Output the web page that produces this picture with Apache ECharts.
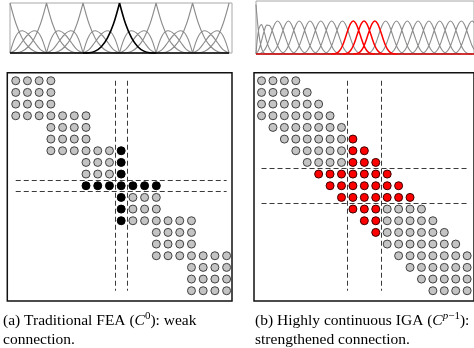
<!DOCTYPE html>
<html><head><meta charset="utf-8">
<script src="https://cdn.jsdelivr.net/npm/echarts@6/dist/echarts.min.js"></script>
<style>html,body{margin:0;padding:0;background:#fff}#c{width:474px;height:348px}</style>
</head><body><div id="c"></div>
<script>
// ---------- (a) Traditional FEA: cubic Bernstein basis, C0, 6 elements ----------
const leftKnots = [0, 1, 2, 3, 4, 5, 6];
const bernT = [0, 1/6, 2/6, 3/6, 4/6, 5/6, 1];
const bernVertex = [1, 0.579, 0.296, 0.125, 0.037, 0.005, 0];   // vertex function, falling half
const bernHump = [0, 0.347, 0.444, 0.375, 0.222, 0.069, 0];      // interior function
const leftHighlightKnot = 3;

// ---------- (b) Highly continuous IGA: cubic B-splines, open knot vector ----------
const rightKnots = [0,0,0,0,1,2,3,4,5,6,7,8,9,10,11,12,13,14,15,16,17,18,19,20,21,22];
const splineStep = 0.25;
const splineN0 = [1, 0.422, 0.125, 0.016, 0];
const splineN1 = [0, 0.496, 0.594, 0.457, 0.25, 0.105, 0.031, 0.004, 0];
const splineN2 = [0, 0.079, 0.260, 0.457, 0.583, 0.577, 0.469, 0.314, 0.167, 0.070, 0.021, 0.003, 0];
const splineInner = [0, 0.003, 0.021, 0.070, 0.167, 0.315, 0.479, 0.612, 0.667, 0.612, 0.479, 0.315, 0.167, 0.070, 0.021, 0.003, 0];
const rightFuncCount = 22;
const rightHighlightFuncs = [10, 11, 12];

// ---------- sparsity patterns (column range per row) ----------
const leftRowRanges = [[0,3],[0,3],[0,3],[0,6],[3,6],[3,6],[3,9],[6,9],[6,9],[6,12],[9,12],[9,12],[9,15],[12,15],[12,15],[12,18],[15,18],[15,18],[15,18]];
const leftHighlightIdx = [9];
const rightRowRanges = [[0,3],[0,4],[0,5],[0,6],[1,7],[2,8],[3,9],[4,10],[5,11],[6,12],[7,13],[8,14],[9,15],[10,16],[11,17],[12,18],[13,18],[14,18],[15,18]];
const rightHighlightIdx = [8, 9, 10];

// ---------- build line data ----------
const BR = ['-', '-'];
function piece(x0, w, ts, ys) { return ts.map((t, k) => [x0 + t * w, ys[k]]); }

const leftGray = [], leftBlack = [];
const rev = a => a.slice().reverse();
for (let e = 0; e < leftKnots.length - 1; e++) {
  const x0 = leftKnots[e], w = leftKnots[e + 1] - leftKnots[e];
  const pieces = [
    { ys: bernVertex, owner: leftKnots[e] },
    { ys: bernHump, owner: null },
    { ys: rev(bernHump), owner: null },
    { ys: rev(bernVertex), owner: leftKnots[e + 1] }
  ];
  pieces.forEach(p => {
    const target = p.owner === leftHighlightKnot ? leftBlack : leftGray;
    target.push(...piece(x0, w, bernT, p.ys), BR);
  });
}
const leftBase = [[leftKnots[0], 0], [leftKnots[leftKnots.length - 1], 0]];

const rightGray = [], rightRed = [];
for (let i = 0; i < rightFuncCount; i++) {
  const shape = i === 0 ? splineN0 : i === 1 ? splineN1 : i === 2 ? splineN2 : splineInner;
  const x0 = rightKnots[i];
  const pts = shape.map((v, k) => [x0 + k * splineStep, v]);
  const target = rightHighlightFuncs.includes(i) ? rightRed : rightGray;
  target.push(...pts, BR);
}
const rightBase = [[rightKnots[0], 0], [rightKnots[rightKnots.length - 1], 0]];

// ---------- build matrix data ----------
function cells(ranges, H) {
  const g = [], h = [];
  ranges.forEach((r, i) => {
    for (let j = r[0]; j <= r[1]; j++) {
      (H.includes(i) || H.includes(j) ? h : g).push([j, i]);
    }
  });
  return { g, h };
}
const LC = cells(leftRowRanges, leftHighlightIdx);
const RC = cells(rightRowRanges, rightHighlightIdx);
function dashLines(H, n) {
  const a = Math.min(...H) - 0.5, b = Math.max(...H) + 0.5, last = n - 1;
  return [
    [{ coord: [a, 0] }, { coord: [a, last] }],
    [{ coord: [b, 0] }, { coord: [b, last] }],
    [{ coord: [0, a] }, { coord: [last, a] }],
    [{ coord: [0, b] }, { coord: [last, b] }]
  ];
}

const chart = echarts.init(document.getElementById('c'), null, { renderer: 'canvas' });
const ax = (gi, min, max, inv) => ({ type: 'value', gridIndex: gi, min, max, inverse: !!inv, show: false });
const dashStyle = { type: [5, 3], color: '#3a3a3a', width: 1 };
const dotGray = { color: '#c4c4c4', borderColor: '#404040', borderWidth: 1, opacity: 1 };

chart.setOption({
  animation: false,
  backgroundColor: '#fff',
  grid: [
    { left: 10, top: 3, width: 222, height: 50, show: true, borderColor: '#a8a8a8', borderWidth: 1, backgroundColor: 'transparent' },
    { left: 256, top: 1, width: 230, height: 53, show: true, borderColor: '#a8a8a8', borderWidth: 1, backgroundColor: 'transparent' },
    { left: 7.3, top: 72.7, width: 224.7, height: 228.3, show: true, borderColor: '#111', borderWidth: 1.5, backgroundColor: 'transparent' },
    { left: 254, top: 72.7, width: 224.8, height: 228.3, show: true, borderColor: '#111', borderWidth: 1.5, backgroundColor: 'transparent' }
  ],
  xAxis: [ax(0, 0, 6.08), ax(1, 0, 230 / 11.4), ax(2, -0.72, 18.46), ax(3, -0.66, 18.6)],
  yAxis: [ax(0, 0, 1), ax(1, 0, 1.07), ax(2, -0.69, 18.88, true), ax(3, -0.69, 18.88, true)],
  series: [
    { type: 'line', xAxisIndex: 0, yAxisIndex: 0, data: leftGray, smooth: 0.35, symbol: 'none', clip: false, connectNulls: false, lineStyle: { color: '#8c8c8c', width: 1.1 }, silent: true },
    { type: 'line', xAxisIndex: 0, yAxisIndex: 0, data: leftBase, symbol: 'none', clip: false, lineStyle: { color: '#000', width: 1.6 }, silent: true },
    { type: 'line', xAxisIndex: 0, yAxisIndex: 0, data: leftBlack, smooth: 0.35, symbol: 'none', clip: false, connectNulls: false, lineStyle: { color: '#000', width: 1.6 }, silent: true },
    { type: 'line', xAxisIndex: 1, yAxisIndex: 1, data: rightGray, smooth: 0.35, symbol: 'none', clip: false, connectNulls: false, lineStyle: { color: '#8c8c8c', width: 1.1 }, silent: true },
    { type: 'line', xAxisIndex: 1, yAxisIndex: 1, data: rightBase, symbol: 'none', clip: false, lineStyle: { color: '#d00000', width: 1.4 }, silent: true },
    { type: 'line', xAxisIndex: 1, yAxisIndex: 1, data: rightRed, smooth: 0.35, symbol: 'none', clip: false, connectNulls: false, lineStyle: { color: '#ff0000', width: 1.5 }, silent: true },
    { type: 'scatter', xAxisIndex: 2, yAxisIndex: 2, data: LC.g, symbolSize: 8, itemStyle: dotGray, silent: true,
      markLine: { symbol: 'none', silent: true, label: { show: false }, lineStyle: dashStyle, data: dashLines(leftHighlightIdx, leftRowRanges.length) } },
    { type: 'scatter', xAxisIndex: 2, yAxisIndex: 2, data: LC.h, symbolSize: 8, itemStyle: { color: '#000', borderColor: '#000', borderWidth: 1, opacity: 1 }, silent: true },
    { type: 'scatter', xAxisIndex: 3, yAxisIndex: 3, data: RC.g, symbolSize: 8, itemStyle: dotGray, silent: true,
      markLine: { symbol: 'none', silent: true, label: { show: false }, lineStyle: dashStyle, data: dashLines(rightHighlightIdx, rightRowRanges.length) } },
    { type: 'scatter', xAxisIndex: 3, yAxisIndex: 3, data: RC.h, symbolSize: 8, itemStyle: { color: '#ff0000', borderColor: '#3a0000', borderWidth: 1, opacity: 1 }, silent: true }
  ],
  graphic: [
    { type: 'text', left: 3, top: 311, silent: true, style: {
      text: '(a) Traditional FEA ({i|C}{sup|0}): weak\nconnection.',
      font: '15.5px "Liberation Serif"', fill: '#000', lineHeight: 19,
      rich: { i: { fontStyle: 'italic', fontFamily: 'Liberation Serif', fontSize: 15.5, lineHeight: 19 },
              sup: { fontFamily: 'Liberation Serif', fontSize: 11, verticalAlign: 'top', lineHeight: 19 } } } },
    { type: 'text', left: 255, top: 311, silent: true, style: {
      text: '(b) Highly continuous IGA ({i|C}{supi|p}{sup|−1}):\nstrengthened connection.',
      font: '15.5px "Liberation Serif"', fill: '#000', lineHeight: 19,
      rich: { i: { fontStyle: 'italic', fontFamily: 'Liberation Serif', fontSize: 15.5, lineHeight: 19 },
              supi: { fontStyle: 'italic', fontFamily: 'Liberation Serif', fontSize: 11, verticalAlign: 'top', lineHeight: 19 },
              sup: { fontFamily: 'Liberation Serif', fontSize: 11, verticalAlign: 'top', lineHeight: 19 } } } }
  ]
});
</script></body></html>
